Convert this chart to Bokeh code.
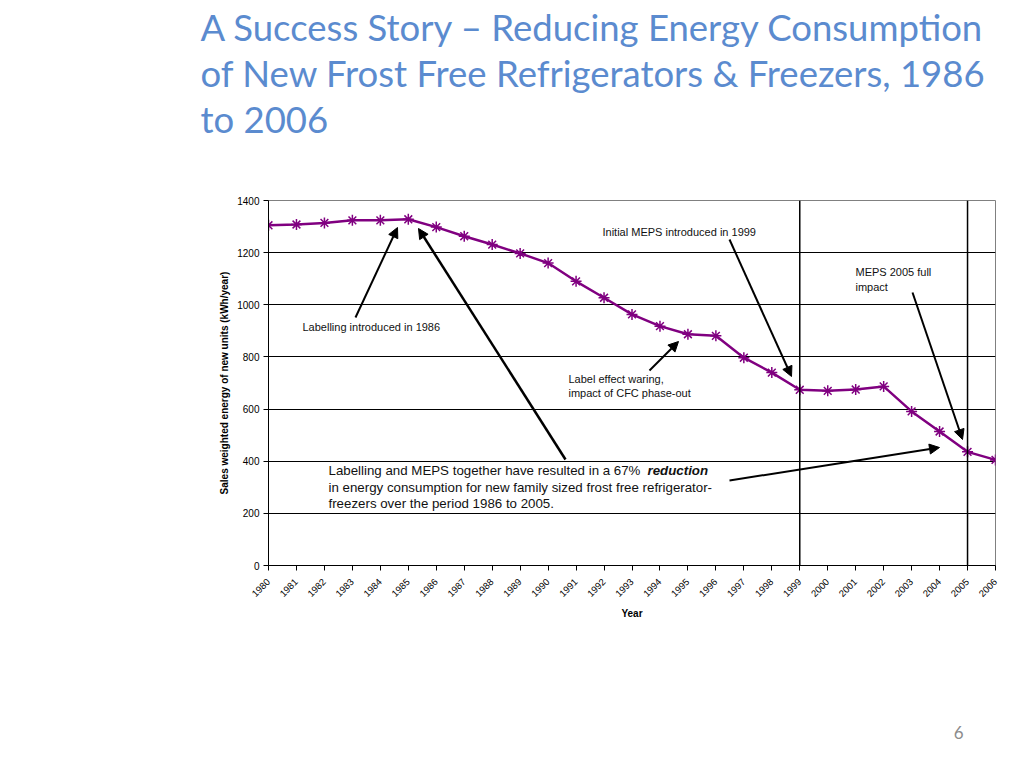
import math
from bokeh.plotting import figure
from bokeh.models import Range1d, FixedTicker, Span, Label, Arrow, NormalHead, Title
from bokeh.embed import file_html
from bokeh.resources import INLINE

# ---------------- data ----------------
years = list(range(1980, 2007))
energy = [1305, 1308, 1314, 1324, 1324, 1328, 1298, 1263, 1231, 1197, 1160,
          1090, 1027, 963, 918, 887, 881, 797, 740, 674, 670, 675, 687, 591,
          514, 436, 405]
y_ticks = [0, 200, 400, 600, 800, 1000, 1200, 1400]
x_tick_labels = [str(y) for y in years]
meps_years = [1999, 2005]

title_lines = ["A Success Story \u2013 Reducing Energy Consumption",
               "of New Frost Free Refrigerators & Freezers, 1986",
               "to 2006"]
page_number = "6"

# ---------------- geometry (page px of the plot frame) ----------------
W, H = 1008, 752
FL, FR, FT, FB = 268, 995, 200, 565


def dx(px):
    return 1980 + (px - FL) * (2006 - 1980) / (FR - FL)


def dy(py):
    return (FB - py) * 1400 / (FB - FT)


p = figure(width=W, height=H, output_backend="svg", toolbar_location=None,
           title=None,
           x_range=Range1d(1980, 2006), y_range=Range1d(0, 1400),
           min_border_left=FL, min_border_right=W - FR,
           min_border_top=FT, min_border_bottom=H - FB)
p.background_fill_color = "white"
p.border_fill_color = "white"
p.outline_line_color = "#808080"
p.outline_line_width = 1

# ---- title lines, stacked above the frame (nearest first) ----
p.add_layout(Title(text=" ", text_font="Lato", text_font_size="10px",
                   text_color="white", standoff=46), "above")   # spacer
for line in reversed(title_lines):
    p.add_layout(Title(text=line, align="left", offset=200 - FL,
                       text_font="Lato", text_font_size="36.5px",
                       text_font_style="normal", text_color="#5B8BCF",
                       standoff=0), "above")

# axes
p.xaxis.ticker = FixedTicker(ticks=years)
p.xaxis.major_label_overrides = {y: s for y, s in zip(years, x_tick_labels)}
p.xaxis.major_label_orientation = math.pi / 4
p.xaxis.major_label_text_font = "Liberation Sans"
p.xaxis.major_label_text_font_size = "9.5px"
p.xaxis.major_label_text_color = "black"
p.xaxis.major_tick_out = 5
p.xaxis.major_tick_in = 0
p.xaxis.minor_tick_line_color = None
p.xaxis.axis_line_color = "black"
p.xaxis.major_tick_line_color = "black"
p.xaxis.major_label_standoff = 10
p.xaxis.axis_label = "Year"
p.xaxis.axis_label_text_font = "Liberation Sans"
p.xaxis.axis_label_text_font_style = "bold"
p.xaxis.axis_label_text_font_size = "10px"
p.xaxis.axis_label_text_color = "black"
p.xaxis.axis_label_standoff = 5

p.yaxis.ticker = FixedTicker(ticks=y_ticks)
p.yaxis.major_label_text_font = "Liberation Sans"
p.yaxis.major_label_text_font_size = "10px"
p.yaxis.major_label_text_color = "black"
p.yaxis.major_tick_out = 5
p.yaxis.major_tick_in = 0
p.yaxis.minor_tick_line_color = None
p.yaxis.axis_line_color = "black"
p.yaxis.major_tick_line_color = "black"
p.yaxis.major_label_standoff = 4
p.yaxis.axis_label = "Sales weighted energy of new units (kWh/year)"
p.yaxis.axis_label_text_font = "Liberation Sans"
p.yaxis.axis_label_text_font_style = "bold"
p.yaxis.axis_label_text_font_size = "10px"
p.yaxis.axis_label_text_color = "black"
p.yaxis.axis_label_standoff = 4

# ---- page number below the axis (spacer first) ----
p.add_layout(Title(text=" ", text_font="Lato", text_font_size="10px",
                   text_color="white", standoff=88), "below")
p.add_layout(Title(text=page_number, align="right", offset=32,
                   text_font="Lato", text_font_size="17px",
                   text_font_style="normal", text_color="#8C8C8C",
                   standoff=0), "below")

p.xgrid.grid_line_color = None
p.ygrid.grid_line_color = "black"
p.ygrid.grid_line_width = 1

for yr in meps_years:
    p.add_layout(Span(location=yr, dimension="height", line_color="black",
                      line_width=1.5))

# data
p.line(years, energy, line_color="#800080", line_width=2.5)
p.scatter(years, energy, marker="asterisk", size=11, line_color="#800080",
          line_width=1.5)


# ---------------- annotations ----------------
def lab(text, px, py, size="11px", style="normal", color="#111111"):
    p.add_layout(Label(x=dx(px), y=dy(py), text=text, text_font="Liberation Sans",
                       text_font_size=size, text_font_style=style,
                       text_color=color, text_baseline="middle",
                       text_align="left"))


def arrow(x0, y0, x1, y1, w=2.0):
    p.add_layout(Arrow(x_start=dx(x0), y_start=dy(y0), x_end=dx(x1), y_end=dy(y1),
                       line_width=w, line_color="black",
                       end=NormalHead(size=10, fill_color="black",
                                      line_color="black", line_width=1)))


lab("Labelling introduced in 1986", 302, 326)
arrow(355, 317, 397, 227)
arrow(565, 459, 418, 228, w=2.5)

lab("Initial MEPS introduced in 1999", 602, 231)
arrow(729, 239, 791, 376)

lab("MEPS 2005 full", 855, 271)
lab("impact", 855, 286)
arrow(912, 292, 962, 439)

lab("Label effect waring,", 568, 378)
lab("impact of CFC phase-out", 568, 392)
arrow(649, 370, 678, 341)

BT = "13.3px"
lab("Labelling and MEPS together have resulted in a 67% ", 328, 470, size=BT)
lab("reduction", 647, 470, size=BT, style="bold italic")
lab("in energy consumption for new family sized frost free refrigerator-", 328, 487, size=BT)
lab("freezers over the period 1986 to 2005.", 328, 503, size=BT)
arrow(729, 480, 939, 447)

open("out.html", "w").write(file_html(p, INLINE))
